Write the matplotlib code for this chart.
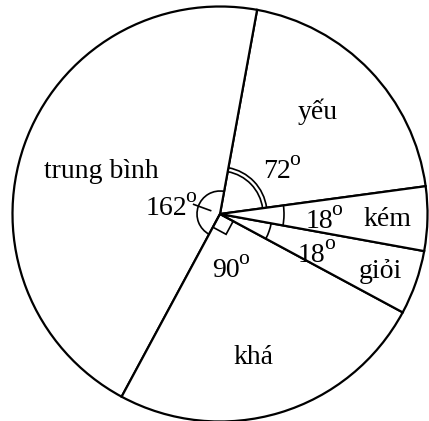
import matplotlib
matplotlib.use('Agg')
from matplotlib import pyplot as plt
from matplotlib.patches import Arc, Polygon
import numpy as np

plt.rcParams['font.family'] = ['Liberation Serif', 'DejaVu Serif']

# data: degrees of each slice, counter-clockwise from the start
labels = ['yếu', 'trung bình', 'khá', 'giỏi', 'kém']
degrees = [72, 162, 90, 18, 18]
angle_texts = ['72', '162', '90', '18', '18']

start = 7.7
H = 421
cx, cy = 220, H - 214
r = 207.5

fig = plt.figure(figsize=(4.29, 4.21), dpi=100)
ax = fig.add_axes([0, 0, 1, 1])

ax.pie(degrees, startangle=start, counterclock=True, center=(cx, cy), radius=r,
       colors=['white'] * len(degrees),
       wedgeprops=dict(edgecolor='black', linewidth=1.6))
ax.set_xlim(0, 429)
ax.set_ylim(0, H)
ax.set_aspect('equal')
ax.axis('off')

# slice boundaries
bounds = start + np.concatenate([[0], np.cumsum(degrees)])

lw = 1.2
# yếu: double arc
for rad in (43, 47):
    ax.add_patch(Arc((cx, cy), 2 * rad, 2 * rad, theta1=bounds[0], theta2=bounds[1], lw=lw))
# trung bình: single arc + tick
ax.add_patch(Arc((cx, cy), 46, 46, theta1=bounds[1], theta2=bounds[2], lw=lw))
a = np.radians(160)
ax.plot([cx + 10 * np.cos(a), cx + 28 * np.cos(a)], [cy + 10 * np.sin(a), cy + 28 * np.sin(a)],
        color='black', lw=lw)
# khá: right angle square
s = 15
a1, a2 = np.radians(bounds[2]), np.radians(bounds[3])
p1 = (cx + s * np.cos(a1), cy + s * np.sin(a1))
p3 = (cx + s * np.cos(a2), cy + s * np.sin(a2))
p2 = (p1[0] + s * np.cos(a2), p1[1] + s * np.sin(a2))
ax.add_patch(Polygon([(cx, cy), p1, p2, p3], closed=True, fill=False, lw=lw))
# giỏi and kém arcs
ax.add_patch(Arc((cx, cy), 104, 104, theta1=bounds[3], theta2=bounds[4], lw=lw))
ax.add_patch(Arc((cx, cy), 128, 128, theta1=bounds[4], theta2=bounds[5], lw=lw))

fs = 20
# slice names (centre positions in image pixels)
name_pos = [(318, 112), (101, 172), (253, 357), (380, 272), (387, 219)]
for name, (x, y) in zip(labels, name_pos):
    ax.text(x, H - y, name, fontsize=fs, ha='center', va='center')

# angle values: digits centre x, baseline y; then a raised small "o"
deg_pos = [(277, 178), (166, 215), (226, 277), (311.5, 262), (319, 228)]
for txt, (x, y) in zip(angle_texts, deg_pos):
    t = ax.text(x, H - y, txt, fontsize=fs, ha='center', va='baseline')
    ax.annotate('o', xy=(1.0, H - y + 13), xycoords=(t, 'data'),
                xytext=(-1.0, 0), textcoords='offset points',
                fontsize=15.5, ha='left', va='baseline')

fig.savefig('out.png', dpi=100)
